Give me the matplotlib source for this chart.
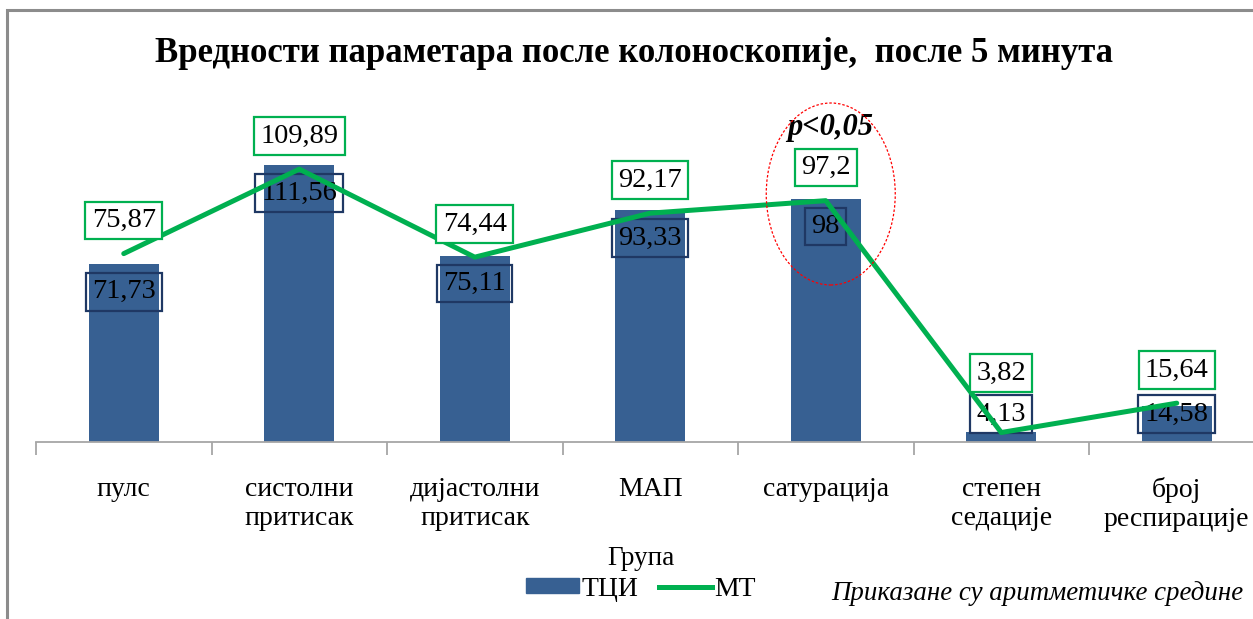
import matplotlib
matplotlib.use("Agg")
import matplotlib.pyplot as plt
from matplotlib.patches import Ellipse, Rectangle, Patch
from matplotlib.lines import Line2D

categories = ["пулс", "систолни\nпритисак", "дијастолни\nпритисак", "МАП",
              "сатурација", "степен\nседације", "број\nреспирације"]
tci_values = [71.73, 111.56, 75.11, 93.33, 98, 4.13, 14.58]
mt_values = [75.87, 109.89, 74.44, 92.17, 97.2, 3.82, 15.64]
tci_labels = ["71,73", "111,56", "75,11", "93,33", "98", "4,13", "14,58"]
mt_labels = ["75,87", "109,89", "74,44", "92,17", "97,2", "3,82", "15,64"]

title = "Вредности параметара после колоноскопије,  после 5 минута"
legend_title = "Група"
series_names = ["ТЦИ", "МТ"]
footnote = "Приказане су аритметичке средине"
p_text = "p<0,05"
sig_index = 4

BAR = "#376092"
GREEN = "#00B050"
NAVY = "#1F3864"
SERIF = ["Liberation Serif", "DejaVu Serif"]

W, H = 1253, 619
fig = plt.figure(figsize=(W / 100, H / 100), dpi=100)

# outer frame
fig.patches.append(Rectangle((7 / W, -0.1), 1.2, (H - 10) / H + 0.1, transform=fig.transFigure,
                             fill=False, edgecolor="#8C8C8C", linewidth=2.2, zorder=0))

ymax = 120.0
ax_left, ax_right_px = 36, 36 + 7 * 175.5
base_px, top_px = 442, 442 - 120 * 2.483
ax = fig.add_axes([ax_left / W, (H - base_px) / H, (ax_right_px - ax_left) / W, (base_px - top_px) / H])
ax.set_xlim(-0.5, 6.5)
ax.set_ylim(0, ymax)
x = list(range(len(categories)))
pxu = (base_px - top_px) / ymax  # pixels per unit

ax.bar(x, tci_values, width=0.4, color=BAR, zorder=2)
ax.plot(x, mt_values, color=GREEN, linewidth=3.6, zorder=4, solid_capstyle="round")

for s in ["left", "right", "top"]:
    ax.spines[s].set_visible(False)
ax.spines["bottom"].set_color("#A6A6A6")
ax.spines["bottom"].set_linewidth(1.3)
ax.set_yticks([])
ax.set_xticks([i + 0.5 for i in range(-1, 7)], minor=False)
ax.set_xticklabels([])
ax.tick_params(axis="x", which="major", length=9, color="#A6A6A6", width=1.3, direction="out")
ax.set_xticks(x, minor=True)
ax.set_xticklabels(categories, minor=True, fontfamily=SERIF, fontsize=20, linespacing=1.25)
ax.tick_params(axis="x", which="minor", length=0, pad=25)

# data labels
for i, (v, lab) in enumerate(zip(tci_values, tci_labels)):
    c_up = max(v * pxu - 28, 28)
    ax.text(i, c_up / pxu, lab, ha="center", va="center", fontfamily=SERIF, fontsize=20.5,
            zorder=3, bbox=dict(boxstyle="square,pad=0.22", fc="none", ec=NAVY, lw=1.6))
for i, (v, lab) in enumerate(zip(mt_values, mt_labels)):
    c_up = max(v * pxu + 33, 69)
    ax.text(i, c_up / pxu, lab, ha="center", va="center", fontfamily=SERIF, fontsize=20.5,
            zorder=5, bbox=dict(boxstyle="square,pad=0.22", fc="white", ec=GREEN, lw=1.6))

# significance annotation
ax.text(sig_index + 4 / 175.5, (base_px - 128) / pxu, p_text, ha="center", va="center",
        fontfamily=SERIF, fontsize=22, fontweight="bold", fontstyle="italic", zorder=6)
ax.add_patch(Ellipse((sig_index + 5 / 175.5, (base_px - 194) / pxu), 129 / 175.5, 182 / pxu,
                     fill=False, edgecolor="red", linestyle=(0, (2, 1.5)), linewidth=0.9,
                     zorder=6, clip_on=False))

fig.text(634 / W, 1 - 53 / H, title, ha="center", va="center", fontfamily=SERIF,
         fontsize=25, fontweight="bold")

handles = [Patch(facecolor=BAR, edgecolor=BAR), Line2D([], [], color=GREEN, linewidth=3.6)]
leg = fig.legend(handles, series_names, loc="center", bbox_to_anchor=(641 / W, 1 - 574 / H),
                 ncol=2, frameon=False, title=legend_title, handlelength=1.9, handleheight=0.45,
                 handletextpad=0.08, columnspacing=0.75, labelspacing=0.2, borderpad=0.1,
                 prop={"family": SERIF, "size": 20})
leg.get_title().set_fontfamily(SERIF)
leg.get_title().set_fontsize(19.5)

fig.text(1243 / W, 1 - 594 / H, footnote, ha="right", va="center", fontfamily=SERIF,
         fontsize=19.4, fontstyle="italic")

fig.savefig("out.png", dpi=100)
